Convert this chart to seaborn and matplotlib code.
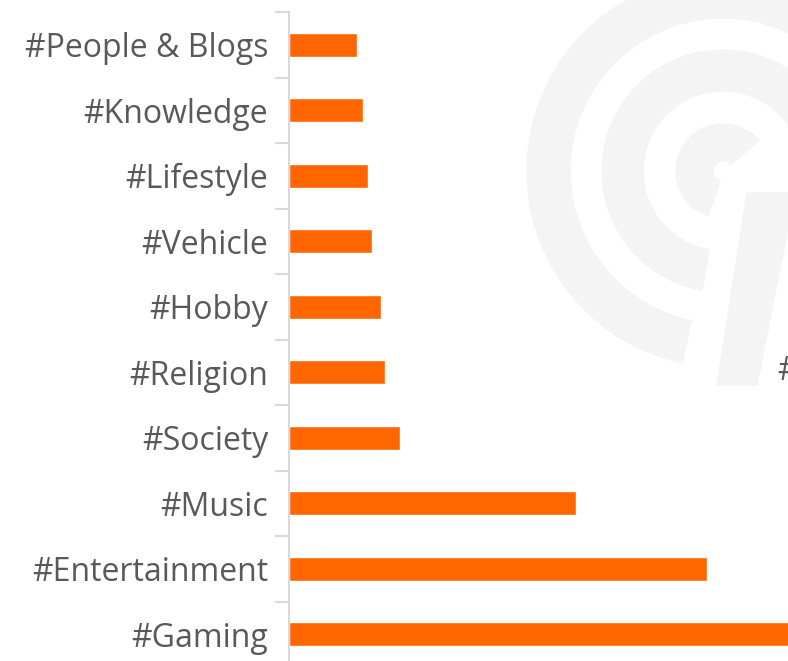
import matplotlib
matplotlib.use("Agg")
import matplotlib.pyplot as plt
import seaborn as sns
import pandas as pd
from matplotlib.patches import Wedge, Polygon

# data (bar lengths in px-ish units, Gaming is cut off at the edge)
categories = ["#People & Blogs", "#Knowledge", "#Lifestyle", "#Vehicle", "#Hobby",
              "#Religion", "#Society", "#Music", "#Entertainment", "#Gaming"]
values = [68, 74, 79, 83, 92, 96, 111, 287, 418, 530]

df = pd.DataFrame({"tag": categories, "value": values})

sns.set_theme(style="white")
plt.rcParams["font.family"] = ["Open Sans", "DejaVu Sans"]

W, H = 788, 661
fig = plt.figure(figsize=(W / 100, H / 100), dpi=100)

# light watermark logo in the background (figure pixel coords)
wm = "#f4f4f4"
cx, cy = 723, H - 171
for r_out, width, t1, t2 in [(196, 43, 15, 258), (121, 41, 15, 260), (47, 37, 40, 252)]:
    fig.patches.append(Wedge((cx, cy), r_out, t1, t2, width=width, color=wm,
                             transform=None, zorder=0))
fig.patches.append(Polygon([(747, H - 193), (795, H - 193), (757, H - 385), (717, H - 385)],
                           closed=True, color=wm, transform=None, zorder=0))

ax = fig.add_axes([289 / W, (H - 667) / H, 1 - 289 / W, 655 / H])
ax.set_facecolor("none")

sns.barplot(data=df, x="value", y="tag", color="#ff6600", saturation=1,
            width=0.37, ax=ax, orient="h")

ax.set_xlim(0, 499)
ax.set_ylim(len(categories) - 0.5, -0.5)
ax.set_xlabel("")
ax.set_ylabel("")
ax.set_xticks([])

for s in ["top", "right", "bottom"]:
    ax.spines[s].set_visible(False)
ax.spines["left"].set_color("#d9d9d9")
ax.spines["left"].set_linewidth(1.5)

ax.tick_params(axis="y", which="major", length=0, pad=15, labelsize=23, labelcolor="#595959")
ax.set_yticks([i - 0.5 for i in range(len(categories) + 1)], minor=True)
ax.tick_params(axis="y", which="minor", length=10, width=1.5, color="#d9d9d9", left=True)

# clipped label from the neighbouring chart
fig.text(777 / W, (H - 372) / H, "#", fontsize=23, color="#595959", va="center", ha="left")

plt.savefig("out.png", dpi=100)
